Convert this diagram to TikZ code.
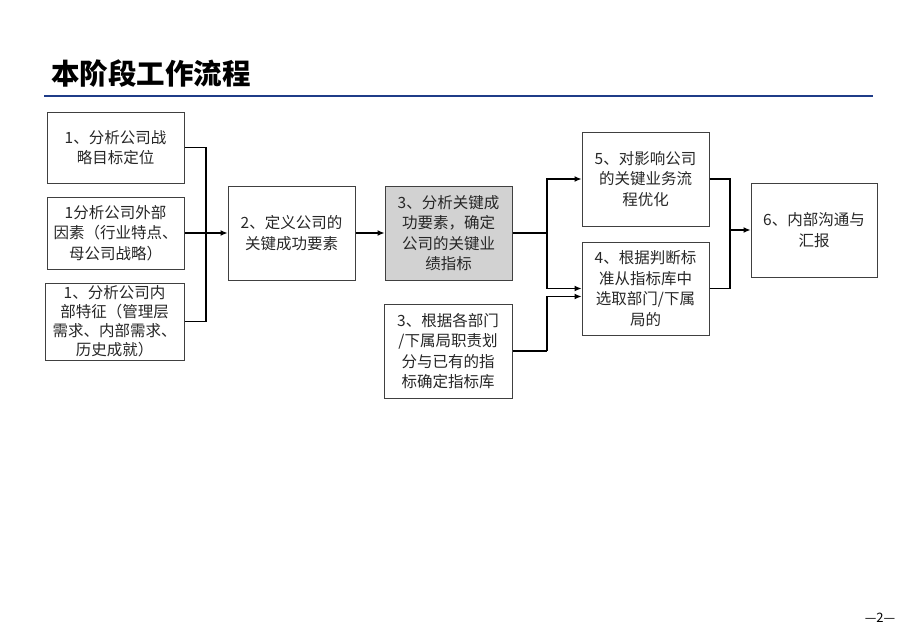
\documentclass[tikz,border=0pt]{standalone}
\usepackage{fontspec}
\setmainfont{Liberation Sans}
\newfontfamily\cjk{Noto Sans CJK SC}
\usetikzlibrary{arrows.meta,calc}
\definecolor{rule}{HTML}{1F3C88}
\definecolor{boxgray}{HTML}{D2D2D2}
\tikzset{
  pbox/.style={draw=black!75, line width=1pt, rectangle, inner sep=0pt, align=center,
    font=\cjk\fontsize{15.5}{20.5}\selectfont, text=black!85},
  conn/.style={draw=black, line width=1.2pt},
  arr/.style={conn, -{Latex[length=7pt,width=6pt]}}
}
\begin{document}
\begin{tikzpicture}[x=1pt,y=-1pt]
\useasboundingbox (0,0) rectangle (920,638);
% title
\node[anchor=west, inner sep=0pt, font=\cjk\bfseries\fontsize{28.5}{31}\selectfont] (title) at (51,74) {本阶段工作流程};
\draw[rule, line width=1.5pt] (44,96) -- (873,96);
% boxes
\node[pbox, minimum width=137pt, minimum height=71pt] (b1a) at (115.5,147.5) {1、分析公司战\\略目标定位};
\node[pbox, minimum width=137pt, minimum height=72pt] (b1b) at (115.5,233) {1分析公司外部\\因素（行业特点、\\母公司战略）};
\node[pbox, minimum width=139pt, minimum height=77pt, font=\cjk\fontsize{15.5}{19}\selectfont] (b1c) at (114.5,321.5) {1、分析公司内\\部特征（管理层\\需求、内部需求、\\历史成就）};
\node[pbox, minimum width=127pt, minimum height=94pt] (b2) at (291.5,233) {2、定义公司的\\关键成功要素};
\node[pbox, fill=boxgray, minimum width=127pt, minimum height=94pt] (b3) at (448.5,233) {3、分析关键成\\功要素，确定\\公司的关键业\\绩指标};
\node[pbox, minimum width=128pt, minimum height=94pt] (b3b) at (448,351) {3、根据各部门\\/下属局职责划\\分与已有的指\\标确定指标库};
\node[pbox, minimum width=127pt, minimum height=94pt] (b5) at (645.5,179) {5、对影响公司\\的关键业务流\\程优化};
\node[pbox, minimum width=127pt, minimum height=93pt] (b4) at (645.5,288.5) {4、根据判断标\\准从指标库中\\选取部门/下属\\局的};
\node[pbox, minimum width=126pt, minimum height=94pt] (b6) at (814,230) {6、内部沟通与\\汇报};
% junctions
\coordinate (j1) at (206,233);
\coordinate (j2) at (547,233);
\coordinate (j3) at (730,230);
\coordinate (j4) at (547,351);
\coordinate (b4in) at ($(b4.west)+(0,8)$);
% connectors
\draw[conn] (b1a.east) -| (j1);
\draw[conn] (b1c.east) -| (j1);
\draw[arr] (b1b.east) -- (b2.west);
\draw[arr] (b2.east) -- (b3.west);
\draw[conn] (b3.east) -- (j2);
\draw[arr] (j2) |- (b5.west);
\draw[arr] (j2) |- (b4.west);
\draw[conn] (b3b.east) -- (j4);
\draw[arr] (j4) |- (b4in);
\draw[conn] (b5.east) -| (j3);
\draw[conn] (b4.east) -| (j3);
\draw[arr] (j3) -- (b6.west);
% page number
\node[font=\cjk\fontsize{13}{15}\selectfont, inner sep=0pt] (pg) at (880,618) {—2—};
\end{tikzpicture}
\end{document}
